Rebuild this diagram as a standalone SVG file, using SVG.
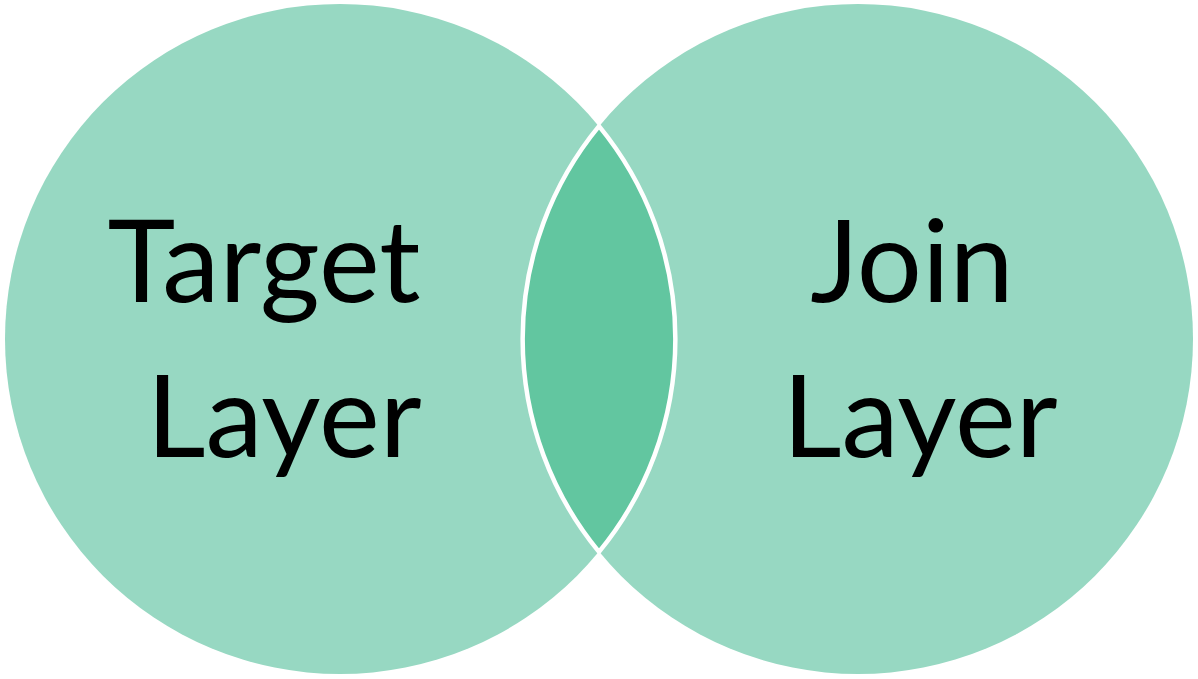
<svg xmlns="http://www.w3.org/2000/svg" width="1198" height="679" viewBox="0 0 1198 679">
<style>
.circ{fill:#97D8C2;stroke:none}
.lens{fill:#62C6A0;stroke:#FFFFFF;stroke-width:4.5}
.lbl{font-family:Lato,"Open Sans",sans-serif;font-size:115px;fill:#000000;text-anchor:middle}
</style>
<rect width="1198" height="679" fill="#FFFFFF"/>
<g id="target-layer">
<circle class="circ" cx="340" cy="339" r="335"/>
<text class="lbl" x="264" y="302">Target</text>
<text class="lbl" x="284" y="457">Layer</text>
</g>
<g id="join-layer">
<circle class="circ" cx="858" cy="339" r="335"/>
<text class="lbl" x="912" y="302">Join</text>
<text class="lbl" x="920" y="457">Layer</text>
</g>
<g id="intersection">
<path class="lens" d="M599,126.1 A335,335 0 0 1 599,551.9 A335,335 0 0 1 599,126.1 Z"/>
</g>
</svg>
